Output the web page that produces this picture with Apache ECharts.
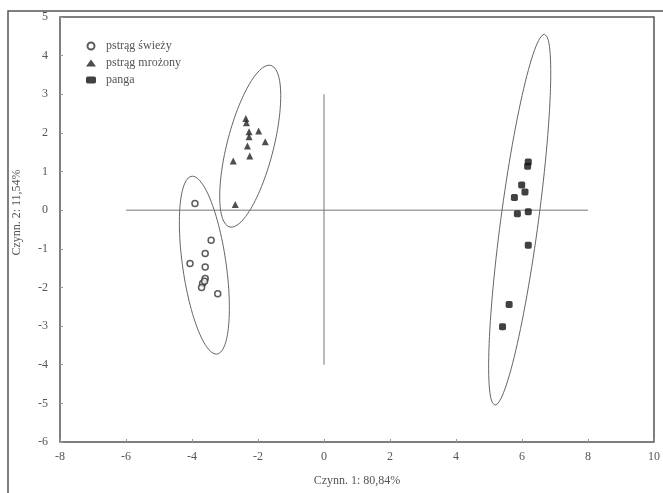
<!DOCTYPE html>
<html>
<head>
<meta charset="utf-8">
<script src="https://cdn.jsdelivr.net/npm/echarts@6/dist/echarts.min.js"></script>
<style>
  html, body { margin: 0; padding: 0; background: #fff; }
  #chart { width: 663px; height: 493px; }
</style>
</head>
<body>
<div id="chart"></div>
<script>
// dane
const seriesNames = ['pstrąg świeży', 'pstrąg mrożony', 'panga'];

const freshTrout = [
  [-3.91, 0.17], [-3.42, -0.78], [-3.60, -1.12], [-4.06, -1.38], [-3.60, -1.47],
  [-3.60, -1.77], [-3.68, -1.90], [-3.71, -2.00], [-3.22, -2.16], [-3.62, -1.84]
];
const frozenTrout = [
  [-2.37, 2.37], [-2.35, 2.26], [-2.27, 2.03], [-1.98, 2.05], [-2.27, 1.90],
  [-1.78, 1.77], [-2.32, 1.66], [-2.25, 1.40], [-2.75, 1.27], [-2.69, 0.15]
];
const panga = [
  [6.19, 1.25], [6.17, 1.14], [5.99, 0.65], [6.09, 0.47], [5.77, 0.33],
  [5.86, -0.09], [6.19, -0.04], [6.19, -0.91], [5.61, -2.44], [5.41, -3.02]
];

// elipsy: środek, półoś (wektor) i połowa szerokości poziomej
const ellipseCenters = [[-3.625, -1.423], [-2.236, 1.656], [5.93, -0.246]];
const ellipseAxes = [[-0.363, 2.303], [0.574, 2.096], [0.746, 4.80]];
const ellipseHalfWidths = [0.665, 0.725, 0.574];

// linie osi środkowych
const hLine = [[-6, 0], [8, 0]];
const vLine = [[0, 3], [0, -4]];

const xTicks = { min: -8, max: 10, step: 2 };
const yTicks = { min: -6, max: 5, step: 1 };

function ellipsePoints(i) {
  const c = ellipseCenters[i], p = ellipseAxes[i], q = ellipseHalfWidths[i];
  const pts = [];
  for (let k = 0; k <= 120; k++) {
    const t = (k / 120) * Math.PI * 2;
    pts.push([c[0] + p[0] * Math.cos(t) + q * Math.sin(t), c[1] + p[1] * Math.cos(t)]);
  }
  return pts;
}

const chart = echarts.init(document.getElementById('chart'));
const font = 'Liberation Serif';

const lineStyleThin = { color: '#777', width: 1 };

const option = {
  animation: false,
  backgroundColor: '#fff',
  graphic: [{
    type: 'rect',
    shape: { x: 8, y: 11, width: 700, height: 500 },
    style: { fill: 'none', stroke: '#555', lineWidth: 1.5 },
    silent: true
  }],
  grid: {
    left: 60, right: 7, top: 17, bottom: 51,
    show: true, borderColor: '#555', borderWidth: 1.5, backgroundColor: 'transparent'
  },
  legend: {
    orient: 'vertical',
    left: 81, top: 35,
    itemGap: 5,
    itemWidth: 10, itemHeight: 7,
    data: seriesNames,
    textStyle: { fontFamily: font, fontSize: 12, color: '#555', padding: [0, 0, 0, 5] }
  },
  xAxis: {
    type: 'value',
    min: xTicks.min, max: xTicks.max, interval: xTicks.step,
    name: 'Czynn. 1: 80,84%',
    nameLocation: 'middle', nameGap: 33,
    nameTextStyle: { fontFamily: font, fontSize: 12, color: '#555' },
    axisLine: { show: false, onZero: false },
    axisTick: { show: true, inside: true, length: 3, lineStyle: { color: '#999' } },
    axisLabel: { fontFamily: font, fontSize: 12, color: '#555', margin: 9 },
    splitLine: { show: false }
  },
  yAxis: {
    type: 'value',
    min: yTicks.min, max: yTicks.max, interval: yTicks.step,
    name: 'Czynn. 2: 11,54%',
    nameLocation: 'middle', nameGap: 37,
    nameTextStyle: { fontFamily: font, fontSize: 12, color: '#555', padding: [0, 0, 0, 34] },
    axisLine: { show: false, onZero: false },
    axisTick: { show: true, inside: true, length: 3, lineStyle: { color: '#999' } },
    axisLabel: { fontFamily: font, fontSize: 12, color: '#555', margin: 12 },
    splitLine: { show: false }
  },
  series: [
    {
      type: 'line', data: hLine, symbol: 'none', silent: true,
      lineStyle: lineStyleThin, z: 1
    },
    {
      type: 'line', data: vLine, symbol: 'none', silent: true,
      lineStyle: lineStyleThin, z: 1
    },
    ...[0, 1, 2].map(i => ({
      type: 'line', data: ellipsePoints(i), symbol: 'none', silent: true,
      smooth: false, lineStyle: { color: '#666', width: 1 }, z: 1
    })),
    {
      name: seriesNames[0], type: 'scatter', data: freshTrout,
      symbol: 'circle', symbolSize: 6,
      itemStyle: { color: '#fff', borderColor: '#333', borderWidth: 1.5 }, z: 3
    },
    {
      name: seriesNames[1], type: 'scatter', data: frozenTrout,
      symbol: 'triangle', symbolSize: 7,
      itemStyle: { color: '#222' }, z: 3
    },
    {
      name: seriesNames[2], type: 'scatter', data: panga,
      symbol: 'roundRect', symbolSize: 7,
      itemStyle: { color: '#111' }, z: 3
    }
  ]
};

chart.setOption(option);
</script>
</body>
</html>
